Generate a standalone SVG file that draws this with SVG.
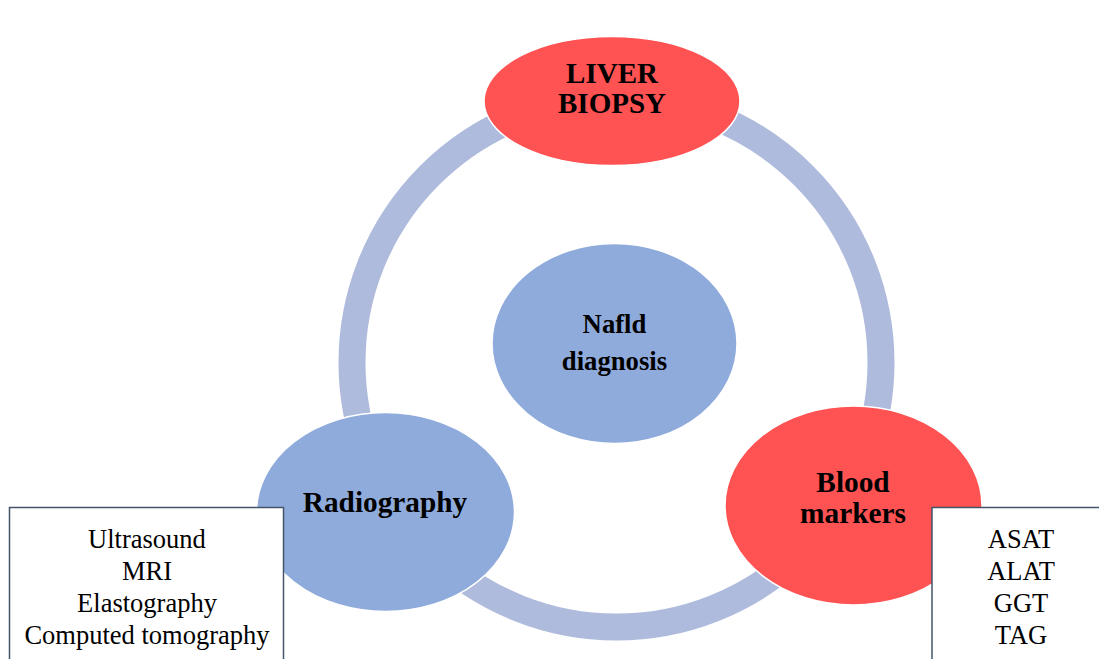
<svg xmlns="http://www.w3.org/2000/svg" width="1099" height="659" viewBox="0 0 1099 659">
<style>
.ring{fill:none;stroke:#AFBBDD;stroke-width:27}
.red{fill:#FF5252;stroke:#FFFFFF;stroke-width:1.5}
.blue{fill:#8FABDC;stroke:#FFFFFF;stroke-width:1.5}
.box{fill:#FFFFFF;stroke:#44546A;stroke-width:1.5}
.lbl{font-family:"Liberation Serif","Times New Roman",serif;font-weight:bold;fill:#000;text-anchor:middle}
.lst{font-family:"Liberation Serif","Times New Roman",serif;font-size:26.5px;fill:#000;text-anchor:middle}
</style>
<rect width="1099" height="659" fill="#FFFFFF"/>
<g id="connectors">
<circle class="ring" cx="616.5" cy="362.5" r="264.5"/>
</g>
<g id="node-liver-biopsy">
<ellipse class="red" cx="612" cy="101" rx="128" ry="64.5"/>
<text class="lbl" font-size="29" x="612" y="83">LIVER</text>
<text class="lbl" font-size="29" x="612" y="113">BIOPSY</text>
</g>
<g id="node-nafld">
<ellipse class="blue" cx="614.5" cy="343.5" rx="122.5" ry="100"/>
<text class="lbl" font-size="26.7" x="614.5" y="333">Nafld</text>
<text class="lbl" font-size="26.7" x="614.5" y="370">diagnosis</text>
</g>
<g id="node-radiography">
<ellipse class="blue" cx="385.5" cy="512" rx="129" ry="99.5"/>
<text class="lbl" font-size="29.3" x="385" y="512">Radiography</text>
</g>
<g id="node-blood-markers">
<ellipse class="red" cx="853.5" cy="505.5" rx="128.5" ry="99.5"/>
<text class="lbl" font-size="29.3" x="853" y="492">Blood</text>
<text class="lbl" font-size="29.3" x="853" y="523">markers</text>
</g>
<g id="node-radiography-list">
<rect class="box" x="9.5" y="507.5" width="274" height="160"/>
<text class="lst" x="147" y="548">Ultrasound</text>
<text class="lst" x="147" y="580">MRI</text>
<text class="lst" x="147" y="612">Elastography</text>
<text class="lst" x="147" y="644">Computed tomography</text>
</g>
<g id="node-blood-list">
<rect class="box" x="932" y="507.5" width="180" height="160"/>
<text class="lst" x="1021" y="548">ASAT</text>
<text class="lst" x="1021" y="580">ALAT</text>
<text class="lst" x="1021" y="612">GGT</text>
<text class="lst" x="1021" y="644">TAG</text>
</g>
</svg>
